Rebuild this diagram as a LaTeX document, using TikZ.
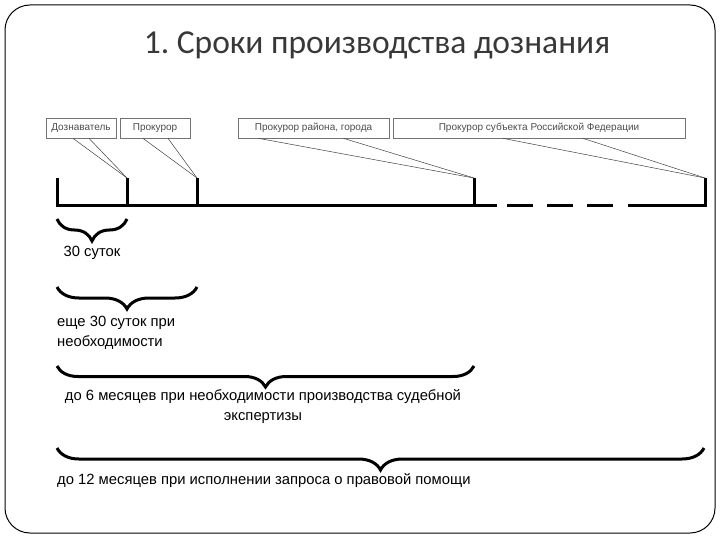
\documentclass[tikz,border=0pt]{standalone}
\usepackage{fontspec}
\setmainfont{Liberation Sans}
\newfontfamily\titlefont{Carlito}
\usetikzlibrary{decorations.pathreplacing}
\frenchspacing

\begin{document}
\begin{tikzpicture}[
  x=1pt,y=-1pt,
  font=\fontsize{14.8}{20}\selectfont,
  who/.style={draw=black!55,line width=0.7pt,minimum height=20pt,inner sep=0pt,
              text=black!70,font=\fontsize{10}{12}\selectfont},
  call/.style={draw=black!75,line width=0.5pt},
  bar/.style={line width=3pt},
  span/.style={line width=3pt,decorate,decoration={brace,mirror,amplitude=#1}},
  span/.default=22pt
]
\useasboundingbox (0,0) rectangle (720,540);
\draw[line width=1pt,rounded corners=25pt] (5,5) rectangle (715,533);
\node[text=black!78,font=\titlefont\fontsize{33.5}{40}\selectfont] (title) at (377,45)
     {1. Сроки производства дознания};

% ---------------- who extends ----------------
\node[who,minimum width=70pt] (doz) at (81,128) {Дознаватель};
\node[who,minimum width=70pt] (pro) at (155,128) {Прокурор};
\node[who,minimum width=151pt] (ray) at (313.5,128) {Прокурор района, города};
\node[who,minimum width=292pt] (sub) at (539,128) {Прокурор субъекта Российской Федерации};

% ---------------- time axis ----------------
\coordinate (t0) at (57,178);
\coordinate (t1) at (127,178);
\coordinate (t2) at (197,178);
\coordinate (t3) at (474,178);
\coordinate (t4) at (705,178);
\draw[bar] (t0) |- (497,206);
\draw[bar] (t1) -- (127,206);
\draw[bar] (t2) -- (197,206);
\draw[bar] (t3) -- (474,206);
\draw[bar,dash pattern=on 26pt off 14pt] (507,206) -- (613,206);
\draw[bar] (628,206) -| (t4);

\draw[call] ([xshift=-8pt]doz.south) -- (t1);
\draw[call] ([xshift=8pt]doz.south) -- (t1);
\draw[call] ([xshift=-12pt]pro.south) -- (t2);
\draw[call] ([xshift=13pt]pro.south) -- (t2);
\draw[call] ([xshift=-55pt]ray.south) -- (t3);
\draw[call] ([xshift=30pt]ray.south) -- (t3);
\draw[call] ([xshift=-36pt]sub.south) -- (t4);
\draw[call] ([xshift=44pt]sub.south) -- (t4);

% ---------------- periods ----------------
\draw[span] (57,219) -- (127,219);
\node (p1) at (92,253) {30 суток};
\draw[span] (57,287) -- (197,287);
\node[align=left,anchor=west,inner sep=0pt] (p2) at (57,333)
     {еще 30 суток при\\необходимости};
\draw[span=21pt] (57,366) -- (474,366);
\node[align=center] (p3) at (263,407)
     {до 6 месяцев при необходимости производства судебной\\экспертизы};
\draw[span] (57,448) -- (704,448);
\node[anchor=west,inner sep=0pt] (p4) at (57,481)
     {до 12 месяцев при исполнении запроса о правовой помощи};
\end{tikzpicture}
\end{document}
